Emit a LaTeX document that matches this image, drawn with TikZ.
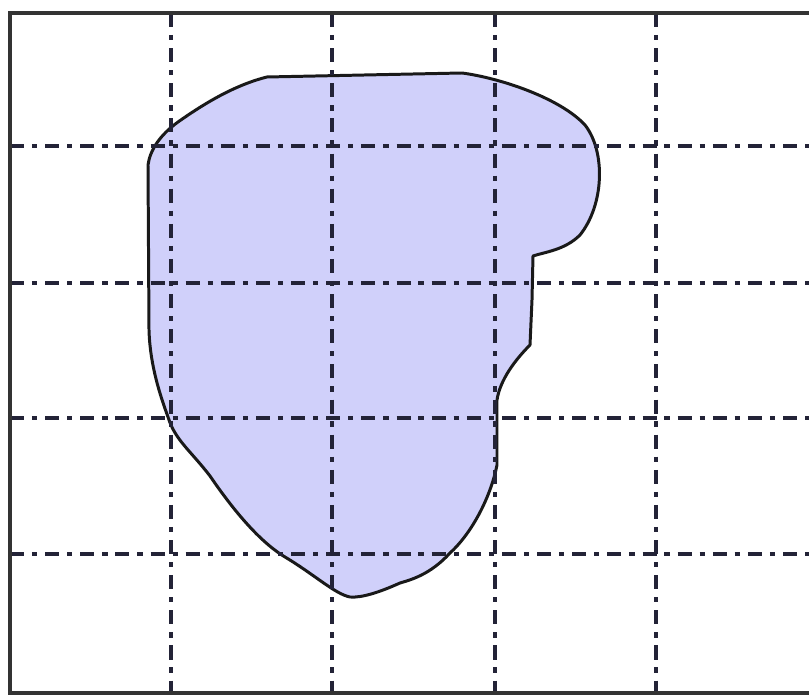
\documentclass[tikz,border=0pt]{standalone}
\usepackage{tikz}
\usetikzlibrary{calc}
\definecolor{regionfill}{RGB}{208, 208, 250}
\definecolor{gridink}{RGB}{35, 35, 55}

\begin{document}
\begin{tikzpicture}[
  x=0.02cm, y=-0.02cm,
  frameline/.style  = {line width=2.2pt, color=black!80},
  gridline/.style   = {line width=2.3pt, color=gridink,
                       dash pattern=on 8pt off 4.5pt on 3pt off 4.5pt},
  region/.style     = {fill=regionfill, draw=black!90, line width=1.7pt,
                       line join=round},
]
\useasboundingbox (0,0) rectangle (809,695);

%% Irregular region
\draw[region] (267,77) -- (462,73)
  .. controls (500,78) and (560,98) .. (585,125)
  .. controls (606,152) and (604,205) .. (580,235)
  .. controls (565,250) and (545,252) .. (533,256)
  -- (532,300) -- (530,345)
  .. controls (515,360) and (500,380) .. (497,400)
  -- (497,465)
  .. controls (490,500) and (470,535) .. (450,553)
  .. controls (430,575) and (410,580) .. (400,583)
  .. controls (380,592) and (362,598) .. (350,597)
  .. controls (335,594) and (315,575) .. (285,557)
  .. controls (265,545) and (240,520) .. (210,476)
  .. controls (190,450) and (175,440) .. (168,417)
  .. controls (160,395) and (150,365) .. (149,330)
  -- (148,165)
  .. controls (150,150) and (160,135) .. (178,122)
  .. controls (205,103) and (235,85) .. (267,77) -- cycle;

%% Grid lines
\foreach \gx in {171, 332, 495, 656}
  \draw[gridline] (\gx,13) -- (\gx,693);
\foreach \gy in {146, 283, 418, 554}
  \draw[gridline] (10,\gy) -- (809,\gy);

%% Frame
\draw[frameline] (809,13) -- (10,13) -- (10,693) -- (809,693);

\end{tikzpicture}
\end{document}
